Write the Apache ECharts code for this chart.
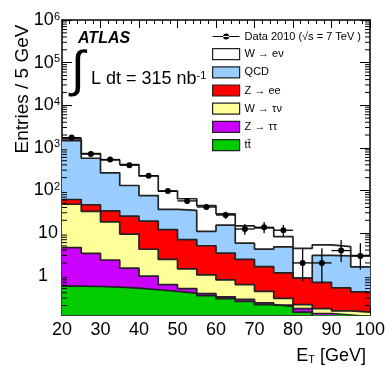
<!DOCTYPE html>
<html>
<head>
<meta charset="utf-8">
<script src="https://cdn.jsdelivr.net/npm/echarts@6/dist/echarts.min.js"></script>
<style>
html, body { margin: 0; padding: 0; background: #fff; }
#chart { width: 390px; height: 375px; }
</style>
</head>
<body>
<div id="chart"></div>
<script>
// E_T bins, 5 GeV wide
const binEdges = [20, 25, 30, 35, 40, 45, 50, 55, 60, 65, 70, 75, 80, 85, 90, 95, 100];

// expected entries per bin for each process (stacked bottom -> top)
const ttbar   = [0.57, 0.56, 0.54, 0.51, 0.47, 0.43, 0.39, 0.34, 0.29, 0.25, 0.21, 0.19, 0.14, 0.11, 0.10, 0.09];
const zTauTau = [4.0, 2.8, 1.8, 1.0, 0.51, 0.19, 0.11, 0.04, 0.03, 0.03, 0.02, 0.015, 0.03, 0.02, 0.02, 0.02];
const wTauNu  = [43, 29, 16, 8.0, 3.2, 1.8, 0.95, 0.67, 0.48, 0.34, 0.2, 0.09, 0.04, 0.04, 0.03, 0.03];
const zee     = [14, 14, 15, 15.5, 15, 9.6, 5.6, 4.0, 2.6, 1.8, 1.2, 0.87, 0.67, 0.53, 0.37, 0.28];
const qcd     = [1420, 524, 227, 106, 57, 24, 27, 6, 12, 3.4, 2.6, 3.6, 0, 2.3, 2.4, 1.2];
const wenu    = [140, 166, 261, 276, 144, 61, 30, 33, 13, 9, 9, 3.5, 3.5, 2.3, 1.9, 1.35];

// data 2010 with error bar ends
const dataVals = [1740, 720, 533, 392, 222, 97, 57, 41, 26.6, 12.5, 13.7, 11.7, 2.0, 2.0, 3.9, 2.9];
const dataHigh = [1780, 747, 556, 412, 237, 107, 65, 47, 31.6, 16.4, 18.3, 15.6, 4.4, 4.4, 6.9, 5.8];
const dataLow  = [1700, 693, 510, 372, 207, 87, 49, 35, 21.6, 9.2, 10, 8.6, 0.75, 0.67, 2.1, 1.4];

const yMin = 0.12, yMax = 1e6;
const font = "'Liberation Sans', Arial, sans-serif";

const layers = [
  { name: 'tt\u0304', vals: ttbar, color: '#00cc00' },
  { name: 'Z \u2192 \u03c4\u03c4', vals: zTauTau, color: '#cc00ff' },
  { name: 'W \u2192 \u03c4\u03bd', vals: wTauNu, color: '#ffff99' },
  { name: 'Z \u2192 ee', vals: zee, color: '#ff0000' },
  { name: 'QCD', vals: qcd, color: '#99ccff' },
  { name: 'W \u2192 e\u03bd', vals: wenu, color: '#ffffff' }
];

// running sums for the stack
let running = new Array(ttbar.length).fill(0);
layers.forEach(l => {
  running = running.map((r, i) => r + l.vals[i]);
  l.top = running.slice();
});

const stepData = top => binEdges.map((x, i) => [x, top[Math.min(i, top.length - 1)]]);

const series = [];
// draw largest first so lower layers sit on top
layers.slice().reverse().forEach(l => {
  series.push({
    name: l.name,
    type: 'line',
    step: 'end',
    symbol: 'none',
    data: stepData(l.top),
    lineStyle: { color: '#222', width: 1.7 },
    itemStyle: { color: l.color, borderColor: '#222' },
    areaStyle: { color: l.color, opacity: 1, origin: 'start' },
    z: 2
  });
});

const dataName = 'Data 2010 (\u221as = 7 TeV )';
const binCenters = binEdges.slice(0, -1).map((e, i) => (e + binEdges[i + 1]) / 2);
series.push({
  name: dataName,
  type: 'custom',
  z: 5,
  itemStyle: { color: '#000' },
  data: binCenters.map((x, i) => [x, dataVals[i], dataLow[i], dataHigh[i]]),
  renderItem: (params, api) => {
    const x = api.value(0), y = api.value(1);
    const c = api.coord([x, y]);
    const lo = api.coord([x, api.value(2)]);
    const hi = api.coord([x, api.value(3)]);
    const l = api.coord([x - 2.5, y]);
    const r = api.coord([x + 2.5, y]);
    return {
      type: 'group',
      children: [
        { type: 'line', shape: { x1: l[0], y1: c[1], x2: r[0], y2: c[1] }, style: { stroke: '#000', lineWidth: 1.3 } },
        { type: 'line', shape: { x1: c[0], y1: lo[1], x2: c[0], y2: hi[1] }, style: { stroke: '#000', lineWidth: 1.3 } },
        { type: 'circle', shape: { cx: c[0], cy: c[1], r: 3 }, style: { fill: '#000' } }
      ]
    };
  }
});

// log minor ticks (2..9 x 10^k) on both vertical frame sides
const minorVals = [];
for (let k = -1; k <= 5; k++) {
  for (let m = 2; m <= 9; m++) {
    const v = m * Math.pow(10, k);
    if (v > yMin && v < yMax) minorVals.push(v);
  }
}
series.push({
  type: 'custom',
  silent: true,
  z: 6,
  data: minorVals.map(v => [20, v]),
  renderItem: (params, api) => {
    const pl = api.coord([20, api.value(1)]);
    const pr = api.coord([100, api.value(1)]);
    return {
      type: 'group',
      children: [
        { type: 'line', shape: { x1: pl[0], y1: pl[1], x2: pl[0] + 5, y2: pl[1] }, style: { stroke: '#000', lineWidth: 1 } },
        { type: 'line', shape: { x1: pr[0], y1: pr[1], x2: pr[0] - 5, y2: pr[1] }, style: { stroke: '#000', lineWidth: 1 } }
      ]
    };
  }
});

const legendData = [
  { name: dataName, icon: 'path://M0,2.6H27V3.6H0Z M10.5,3.1A3,3,0,1,0,16.5,3.1A3,3,0,1,0,10.5,3.1Z', itemStyle: { color: '#000' } }
].concat(layers.slice().reverse().map(l => ({
  name: l.name,
  icon: 'rect',
  itemStyle: { color: l.color, borderColor: '#222', borderWidth: 1.2 }
})));

const yLabel = v => {
  if (Math.abs(v - 1) < 1e-9) return '{one|1}';
  if (Math.abs(v - 10) < 1e-9) return '{ten|10}';
  return '10{sup|' + Math.round(Math.log10(v)) + '}';
};

const xAxisBase = {
  type: 'value', min: 20, max: 100, interval: 10,
  axisLine: { show: true, lineStyle: { color: '#000', width: 1.5 } },
  axisTick: { inside: true, length: 8, lineStyle: { color: '#000', width: 1 } },
  minorTick: { show: true, splitNumber: 5, length: 4, lineStyle: { color: '#000', width: 1 } },
  splitLine: { show: false }
};
const yAxisBase = {
  type: 'log', logBase: 10, min: yMin, max: yMax,
  axisLine: { show: true, lineStyle: { color: '#000', width: 1.5 } },
  axisTick: { inside: true, length: 10, lineStyle: { color: '#000', width: 1 } },
  splitLine: { show: false }
};

const chart = echarts.init(document.getElementById('chart'));
chart.setOption({
  animation: false,
  backgroundColor: '#fff',
  grid: { left: 62, right: 20, top: 20, bottom: 60 },
  xAxis: [
    Object.assign({}, xAxisBase, {
      position: 'bottom',
      axisLabel: { color: '#000', fontSize: 18, fontFamily: font, margin: 6 }
    }),
    Object.assign({}, xAxisBase, { position: 'top', axisLabel: { show: false } })
  ],
  yAxis: [
    Object.assign({}, yAxisBase, {
      position: 'left',
      axisLabel: {
        color: '#000', fontSize: 18, fontFamily: font, margin: 2,
        showMinLabel: false,
        formatter: yLabel,
        rich: {
          sup: { fontSize: 11, fontFamily: font, color: '#000', verticalAlign: 'top', lineHeight: 12 },
          one: { fontSize: 18, fontFamily: font, color: '#000', padding: [0, 12, 0, 0] },
          ten: { fontSize: 18, fontFamily: font, color: '#000', padding: [0, 2, 0, 0] }
        }
      }
    }),
    Object.assign({}, yAxisBase, { position: 'right', axisLabel: { show: false } })
  ],
  legend: {
    left: 212, top: 31, orient: 'vertical',
    itemWidth: 27, itemHeight: 11, itemGap: 6, padding: 0,
    selectedMode: false,
    textStyle: { fontSize: 11, fontFamily: font, color: '#000', lineHeight: 11 },
    data: legendData
  },
  graphic: [
    { type: 'text', left: 78, top: 31, style: { text: 'ATLAS', font: 'italic bold 16px ' + font, fill: '#000' } },
    { type: 'text', x: 71, y: 72, style: { text: '\u222b', font: '50px ' + font, fill: '#000', textVerticalAlign: 'middle' } },
    {
      type: 'text', x: 91, y: 79,
      style: {
        text: 'L dt = 315 nb{sup|-1}', font: '18px ' + font, fill: '#000', textVerticalAlign: 'middle',
        rich: { sup: { fontSize: 11, fontFamily: font, verticalAlign: 'top', lineHeight: 12 } }
      }
    },
    {
      type: 'text', x: 23, y: 89, rotation: Math.PI / 2,
      style: { text: 'Entries / 5 GeV', font: '19px ' + font, fill: '#000', textAlign: 'center', textVerticalAlign: 'middle' }
    },
    {
      type: 'text', x: 366, y: 356,
      style: {
        text: 'E{sub|T} [GeV]', font: '18px ' + font, fill: '#000', textAlign: 'right', textVerticalAlign: 'middle',
        rich: { sub: { fontSize: 11, fontFamily: font, verticalAlign: 'bottom', lineHeight: 12 } }
      }
    }
  ],
  series: series
});
</script>
</body>
</html>
